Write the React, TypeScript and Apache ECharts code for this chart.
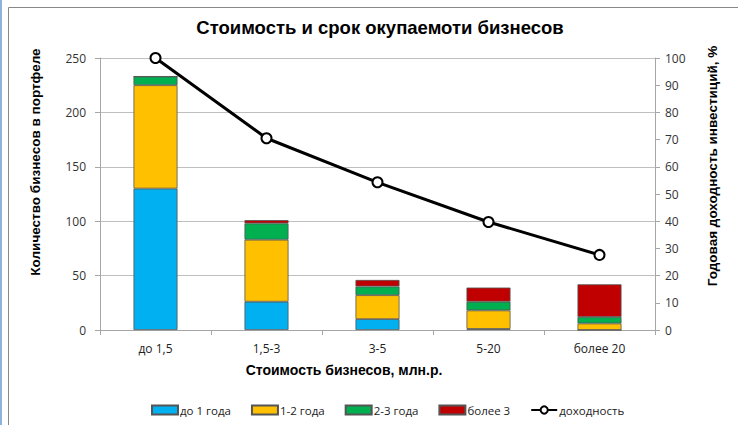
import React, { useEffect, useRef } from "react";
import * as echarts from "echarts";

const categories = ["до 1,5", "1,5-3", "3-5", "5-20", "более 20"];
const upTo1 = [130, 26, 10, 1, 0];
const from1to2 = [95, 57, 22, 17, 6];
const from2to3 = [8, 15, 8, 8, 6];
const over3 = [0, 3, 6, 13, 30];
const yieldPct = [100, 70.5, 54.3, 39.7, 27.6];

const FONT = "'Liberation Sans', Arial, sans-serif";
const TICK_FONT = "'Open Sans', 'Noto Sans', sans-serif";

export default function App() {
  const ref = useRef<HTMLDivElement>(null);
  useEffect(() => {
    if (!ref.current) return;
    const chart = echarts.init(ref.current, undefined, { renderer: "svg" });
    const barCommon = {
      type: "bar",
      stack: "total",
      barWidth: 44,
      yAxisIndex: 0,
      itemStyle: { borderColor: "#555", borderWidth: 0.8 },
    };
    chart.setOption({
      animation: false,
      backgroundColor: "#fff",
      title: {
        text: "Стоимость и срок окупаемоти бизнесов",
        left: 375,
        textAlign: "center",
        top: 13,
        textStyle: { fontFamily: FONT, fontWeight: "bold", fontSize: 18.5, color: "#000" },
      },
      grid: { left: 100, right: 83, top: 58, bottom: 95 },
      legend: {
        bottom: 4,
        left: 146,
        itemWidth: 26,
        itemHeight: 9,
        itemGap: 20,
        textStyle: { fontFamily: TICK_FONT, fontSize: 11.5, color: "#222", padding: [0, 0, 0, -3] },
        data: [
          { name: "до 1 года", icon: "rect" },
          { name: "1-2 года", icon: "rect" },
          { name: "2-3 года", icon: "rect" },
          { name: "более 3", icon: "rect" },
          { name: "доходность" },
        ],
      },
      xAxis: {
        type: "category",
        data: categories,
        axisLine: { lineStyle: { color: "#a6a6a6" } },
        axisTick: { show: true, alignWithLabel: false, lineStyle: { color: "#a6a6a6" } },
        axisLabel: { fontFamily: TICK_FONT, fontSize: 12, color: "#222", margin: 12 },
      },
      yAxis: [
        {
          type: "value",
          min: 0,
          max: 250,
          interval: 50,
          axisLine: { show: true, lineStyle: { color: "#a6a6a6" } },
          axisTick: { show: true, lineStyle: { color: "#a6a6a6" } },
          splitLine: { lineStyle: { color: "#bfbfbf" } },
          axisLabel: { fontFamily: TICK_FONT, fontSize: 12, color: "#333", margin: 14 },
        },
        {
          type: "value",
          min: 0,
          max: 100,
          interval: 10,
          axisLine: { show: true, lineStyle: { color: "#a6a6a6" } },
          axisTick: { show: true, lineStyle: { color: "#a6a6a6" } },
          splitLine: { show: false },
          axisLabel: { fontFamily: TICK_FONT, fontSize: 12, color: "#333", margin: 10 },
        },
      ],
      series: [
        { ...barCommon, name: "до 1 года", data: upTo1, itemStyle: { ...barCommon.itemStyle, color: "#00b0f0" } },
        { ...barCommon, name: "1-2 года", data: from1to2, itemStyle: { ...barCommon.itemStyle, color: "#ffc000" } },
        { ...barCommon, name: "2-3 года", data: from2to3, itemStyle: { ...barCommon.itemStyle, color: "#00b050" } },
        { ...barCommon, name: "более 3", data: over3, itemStyle: { ...barCommon.itemStyle, color: "#c00000" } },
        {
          type: "line",
          name: "доходность",
          yAxisIndex: 1,
          data: yieldPct,
          symbol: "circle",
          symbolSize: 10,
          showAllSymbol: true,
          lineStyle: { color: "#000", width: 3 },
          itemStyle: { color: "#fff", borderColor: "#000", borderWidth: 2 },
          z: 5,
        },
      ],
      graphic: [
        {
          type: "rect",
          shape: { x: 8.5, y: 7.5, width: 740, height: 430 },
          style: { fill: "none", stroke: "#888", lineWidth: 1 },
          silent: true,
        },
        {
          type: "rect",
          shape: { x: 0, y: 0, width: 2, height: 425 },
          style: { fill: "#8fb4d9" },
          silent: true,
        },
        {
          type: "text",
          x: 344,
          y: 370,
          style: {
            text: "Стоимость бизнесов, млн.р.",
            fontFamily: FONT,
            fontWeight: "bold",
            fontSize: 14,
            fill: "#000",
            textAlign: "center",
            textVerticalAlign: "middle",
          },
        },
        {
          type: "text",
          x: 35,
          y: 162,
          rotation: Math.PI / 2,
          style: {
            text: "Количество бизнесов в портфеле",
            fontFamily: FONT,
            fontWeight: "bold",
            fontSize: 13.5,
            fill: "#000",
            textAlign: "center",
            textVerticalAlign: "middle",
          },
        },
        {
          type: "text",
          x: 712,
          y: 166,
          rotation: Math.PI / 2,
          style: {
            text: "Годовая доходность инвестиций, %",
            fontFamily: FONT,
            fontWeight: "bold",
            fontSize: 13.5,
            fill: "#000",
            textAlign: "center",
            textVerticalAlign: "middle",
          },
        },
      ],
    });
    return () => chart.dispose();
  }, []);
  return <div ref={ref} style={{ width: 738, height: 425, position: "fixed", left: 0, top: 0 }} />;
}
